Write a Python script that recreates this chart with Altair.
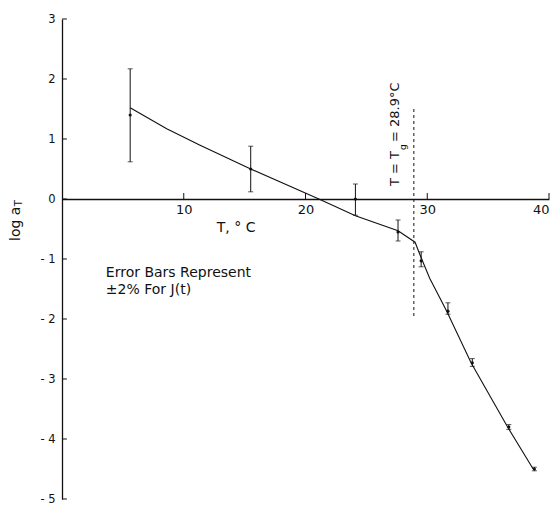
import altair as alt
import pandas as pd

# ---- data ----
T_pts = [5.6, 15.5, 24.1, 27.6, 29.5, 31.7, 33.7, 36.7, 38.8]
log_aT = [1.40, 0.50, 0.00, -0.55, -1.03, -1.87, -2.73, -3.80, -4.50]
err_hi = [2.17, 0.88, 0.25, -0.35, -0.88, -1.73, -2.66, -3.76, -4.47]
err_lo = [0.62, 0.12, -0.27, -0.70, -1.13, -1.92, -2.79, -3.84, -4.53]

curve_T = [5.6, 8.6, 11.3, 15.5, 21.1, 24.1, 27.6, 29.0, 29.5, 30.2, 31.6, 33.6, 36.6, 38.7]
curve_y = [1.52, 1.17, 0.90, 0.50, 0.00, -0.28, -0.53, -0.72, -0.98, -1.32, -1.87, -2.73, -3.80, -4.50]

x_ticks = [10, 20, 30, 40]
y_ticks = [3, 2, 1, 0, -1, -2, -3, -4, -5]

Tg = 28.9
Tg_lo, Tg_hi = -1.95, 1.52

FONT = "DejaVu Sans"
INK = "#111111"

# ---- tables ----
pts = pd.DataFrame({"T": T_pts, "y": log_aT, "hi": err_hi, "lo": err_lo})
caps = pd.DataFrame({"T": T_pts + T_pts, "y": err_hi + err_lo})
curve = pd.DataFrame({"T": curve_T, "y": curve_y})
xt = pd.DataFrame({"T": x_ticks, "y": [0.0] * len(x_ticks), "y2": [0.1] * len(x_ticks)})
yt = pd.DataFrame({"T": [0.0] * len(y_ticks), "T2": [0.4] * len(y_ticks), "y": y_ticks})
tgline = pd.DataFrame({"T": [Tg], "lo": [Tg_lo], "hi": [Tg_hi]})

xs = alt.Scale(domain=[0, 40], nice=False, zero=False)
ys = alt.Scale(domain=[-5, 3], nice=False, zero=False)

xaxis = alt.Axis(values=x_ticks, offset=-300, tickSize=0, labelPadding=4,
                 labelFontSize=13, labelFont=FONT, labelColor=INK,
                 domainColor=INK, domainWidth=1.3, grid=False, title=None)
yaxis = alt.Axis(values=y_ticks, tickSize=0, labelPadding=7,
                 labelFontSize=11.5, labelFont=FONT, labelColor=INK,
                 domainColor=INK, domainWidth=1.3, grid=False, title=None,
                 labelExpr="datum.value < 0 ? '- ' + abs(datum.value) : datum.label")


def X(f):
    return alt.X(f, type="quantitative", scale=xs, axis=xaxis)


def Y(f):
    return alt.Y(f, type="quantitative", scale=ys, axis=yaxis)


line = alt.Chart(curve).mark_line(color=INK, strokeWidth=1.1).encode(x=X("T"), y=Y("y"))

bars = alt.Chart(pts).mark_rule(color=INK, strokeWidth=1).encode(
    x=X("T"), y=Y("lo"), y2="hi")
capm = alt.Chart(caps).mark_tick(color=INK, orient="horizontal", size=5, thickness=1).encode(
    x=X("T"), y=Y("y"))
dots = alt.Chart(pts).mark_circle(color=INK, size=10, opacity=1).encode(x=X("T"), y=Y("y"))

xtick = alt.Chart(xt).mark_rule(color=INK, strokeWidth=1).encode(x=X("T"), y=Y("y"), y2="y2")
ytick = alt.Chart(yt).mark_rule(color=INK, strokeWidth=1).encode(x=X("T"), x2="T2", y=Y("y"))

dash = alt.Chart(tgline).mark_rule(color=INK, strokeWidth=1, strokeDash=[3, 3]).encode(
    x=X("T"), y=Y("lo"), y2="hi")

# annotations
ann_l = pd.DataFrame({
    "T": [3.6, 3.6],
    "y": [-1.23, -1.52],
    "txt": ["Error Bars Represent", "\u00b12% For J(t)"],
})
ann_c = pd.DataFrame({"T": [14.3], "y": [-0.48], "txt": ["T, \u00b0 C"]})
txt_h = alt.Chart(ann_l).mark_text(
    font=FONT, fontSize=14, color=INK, baseline="middle", align="left").encode(
    x=X("T"), y=Y("y"), text="txt:N")
txt_c = alt.Chart(ann_c).mark_text(
    font=FONT, fontSize=14, color=INK, baseline="middle", align="center").encode(
    x=X("T"), y=Y("y"), text="txt:N")

tg_main = pd.DataFrame({"T": [27.35, 27.35], "y": [0.217, 0.95], "txt": ["T = T", "= 28.9\u00b0C"]})
tg_sub = pd.DataFrame({"T": [28.0], "y": [0.817], "txt": ["g"]})
tg1 = alt.Chart(tg_main).mark_text(font=FONT, fontSize=13, color=INK, angle=270,
                                   align="left", baseline="middle").encode(
    x=X("T"), y=Y("y"), text="txt:N")
tg2 = alt.Chart(tg_sub).mark_text(font=FONT, fontSize=9, color=INK, angle=270,
                                  align="left", baseline="middle").encode(
    x=X("T"), y=Y("y"), text="txt:N")

lab_main = pd.DataFrame({"T": [-3.78], "y": [-0.70], "txt": ["log a"]})
lab_sub = pd.DataFrame({"T": [-3.5], "y": [-0.12], "txt": ["T"]})
l1 = alt.Chart(lab_main).mark_text(font=FONT, fontSize=14, color=INK, angle=270,
                                   align="left", baseline="middle").encode(
    x=X("T"), y=Y("y"), text="txt:N")
l2 = alt.Chart(lab_sub).mark_text(font=FONT, fontSize=10, color=INK, angle=270,
                                  align="left", baseline="middle").encode(
    x=X("T"), y=Y("y"), text="txt:N")

chart = alt.layer(line, bars, capm, dots, xtick, ytick, dash, txt_h, txt_c, tg1, tg2, l1, l2).properties(
    width=487, height=480,
    autosize=alt.AutoSizeParams(type="none"),
    padding={"left": 62, "top": 19, "right": 7, "bottom": 8},
    background="white",
).configure_view(stroke=None)

chart.save("out.html", embed_options={"renderer": "svg", "actions": False})
